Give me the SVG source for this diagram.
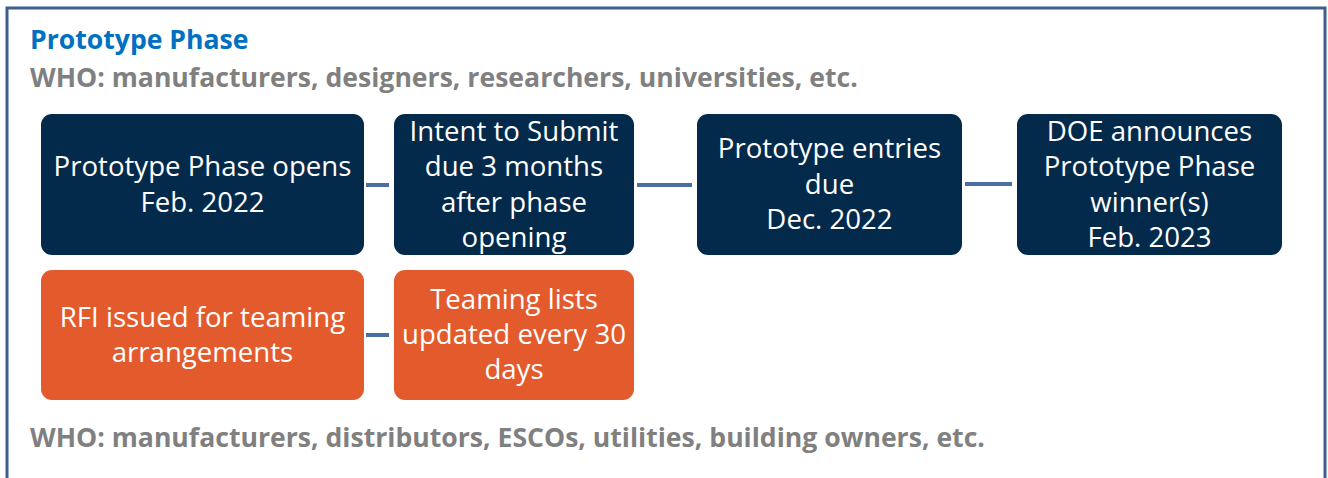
<svg xmlns="http://www.w3.org/2000/svg" width="1328" height="478" viewBox="0 0 1328 478">
<style>
.frame{fill:#ffffff;stroke:#3e5f8e;stroke-width:3}
.title{font-family:"Open Sans","Liberation Sans",sans-serif;font-weight:bold;font-size:26.6px;fill:#0070c0}
.who{font-family:"Open Sans","Liberation Sans",sans-serif;font-weight:bold;font-size:26.6px;fill:#808080}
.navy{fill:#042a4b}
.orange{fill:#e35b2d}
.lbl{font-family:"Open Sans","Liberation Sans",sans-serif;font-size:27.6px;fill:#ffffff;text-anchor:middle}
.conn{stroke:#4a70a3;stroke-width:4;fill:none}
</style>
<rect x="7" y="8" width="1318" height="520" class="frame"/>
<text class="title" x="30" y="49">Prototype Phase</text>
<text class="who" x="30" y="87">WHO: manufacturers, designers, researchers, universities, etc.</text>
<g id="connectors">
<line class="conn" x1="366" y1="185" x2="389" y2="185"/>
<line class="conn" x1="637" y1="185" x2="692" y2="185"/>
<line class="conn" x1="965" y1="184" x2="1012" y2="184"/>
<line class="conn" x1="366" y1="335" x2="389" y2="335"/>
</g>
<g id="n1">
<rect class="navy" x="41" y="114" width="323" height="141" rx="11"/>
<text class="lbl" x="202.5" y="176">Prototype Phase opens</text>
<text class="lbl" x="202.5" y="211.5">Feb. 2022</text>
</g>
<g id="n2">
<rect class="navy" x="394" y="114" width="240" height="141" rx="11"/>
<text class="lbl" x="514" y="141">Intent to Submit</text>
<text class="lbl" x="514" y="176">due 3 months</text>
<text class="lbl" x="514" y="211.5">after phase</text>
<text class="lbl" x="514" y="247">opening</text>
</g>
<g id="n3">
<rect class="navy" x="697" y="114" width="265" height="141" rx="11"/>
<text class="lbl" x="829.5" y="158">Prototype entries</text>
<text class="lbl" x="829.5" y="193.5">due</text>
<text class="lbl" x="829.5" y="229">Dec. 2022</text>
</g>
<g id="n4">
<rect class="navy" x="1017" y="114" width="265" height="141" rx="11"/>
<text class="lbl" x="1149.5" y="141">DOE announces</text>
<text class="lbl" x="1149.5" y="176">Prototype Phase</text>
<text class="lbl" x="1149.5" y="211.5">winner(s)</text>
<text class="lbl" x="1149.5" y="247">Feb. 2023</text>
</g>
<g id="n5">
<rect class="orange" x="41" y="270" width="323" height="130" rx="11"/>
<text class="lbl" x="202.5" y="327">RFI issued for teaming</text>
<text class="lbl" x="202.5" y="362">arrangements</text>
</g>
<g id="n6">
<rect class="orange" x="394" y="270" width="240" height="130" rx="11"/>
<text class="lbl" x="514" y="309">Teaming lists</text>
<text class="lbl" x="514" y="344">updated every 30</text>
<text class="lbl" x="514" y="379">days</text>
</g>
<text class="who" x="30" y="447">WHO: manufacturers, distributors, ESCOs, utilities, building owners, etc.</text>
</svg>
